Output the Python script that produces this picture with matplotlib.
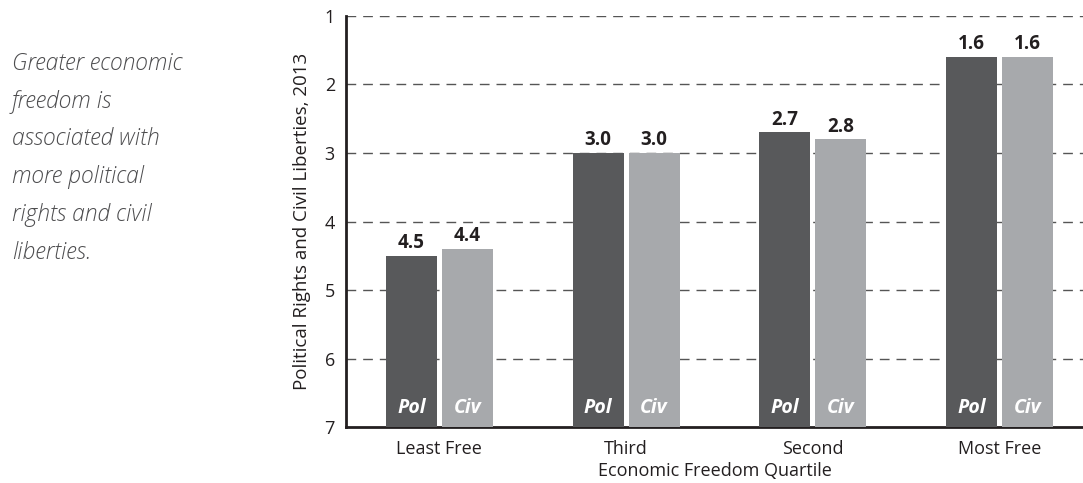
import numpy as np
import matplotlib
matplotlib.use('Agg')
import matplotlib.pyplot as plt

plt.rcParams['font.family'] = ['Open Sans', 'DejaVu Sans']

# data
quartiles = ['Least Free', 'Third', 'Second', 'Most Free']
political = [4.5, 3.0, 2.7, 1.6]
civil = [4.4, 3.0, 2.8, 1.6]
pol_labels = ['4.5', '3.0', '2.7', '1.6']
civ_labels = ['4.4', '3.0', '2.8', '1.6']
yticks = [1, 2, 3, 4, 5, 6, 7]

pol_color = '#58595b'
civ_color = '#a7a9ac'
text_color = '#231f20'

fig = plt.figure(figsize=(10.83, 4.83), dpi=100)
ax = fig.add_axes([0.3195, 0.1159, 0.6805, 0.851])

x = np.arange(len(quartiles))
w = 0.273
off = 0.15
base = 7

# bars grow from 7 up toward 1 (axis is inverted)
ax.bar(x - off, [v - base for v in political], w, bottom=base, color=pol_color, zorder=3)
ax.bar(x + off, [v - base for v in civil], w, bottom=base, color=civ_color, zorder=3)

for i in range(len(quartiles)):
    ax.text(x[i] - off, political[i] - 0.04, pol_labels[i], ha='center', va='bottom',
            fontsize=13.5, fontweight='bold', color=text_color, zorder=4)
    ax.text(x[i] + off, civil[i] - 0.04, civ_labels[i], ha='center', va='bottom',
            fontsize=13.5, fontweight='bold', color=text_color, zorder=4)
    ax.text(x[i] - off, 6.72, 'Pol', ha='center', va='center', fontsize=14,
            fontweight='bold', style='italic', color='white', zorder=4)
    ax.text(x[i] + off, 6.72, 'Civ', ha='center', va='center', fontsize=14,
            fontweight='bold', style='italic', color='white', zorder=4)

ax.set_ylim(7, 1)
ax.set_xlim(-0.5, 3.447)
ax.set_yticks(yticks)
ax.set_xticks(x)
ax.set_xticklabels(quartiles, fontsize=13, color=text_color)
ax.tick_params(axis='y', length=0, labelsize=13, labelcolor=text_color, pad=8)
ax.tick_params(axis='x', length=0, pad=9)

for yv in yticks[:-1]:
    ax.axhline(yv, color='#555555', lw=1, ls=(0, (7, 5)), zorder=1)

for s in ['top', 'right']:
    ax.spines[s].set_visible(False)
ax.spines['left'].set_linewidth(2)
ax.spines['bottom'].set_linewidth(2)
ax.spines['left'].set_color(text_color)
ax.spines['bottom'].set_color(text_color)

ax.set_ylabel('Political Rights and Civil Liberties, 2013', fontsize=13.5,
              color=text_color, labelpad=10)
ax.set_xlabel('Economic Freedom Quartile', fontsize=13, color=text_color, labelpad=3)

side = 'Greater economic\nfreedom is\nassociated with\nmore political\nrights and civil\nliberties.'
fig.text(0.011, 0.893, side, ha='left', va='top', fontsize=16.5, style='italic',
         fontweight='light', color='#4d4d4f', linespacing=1.77)

fig.savefig('out.png', dpi=100)
